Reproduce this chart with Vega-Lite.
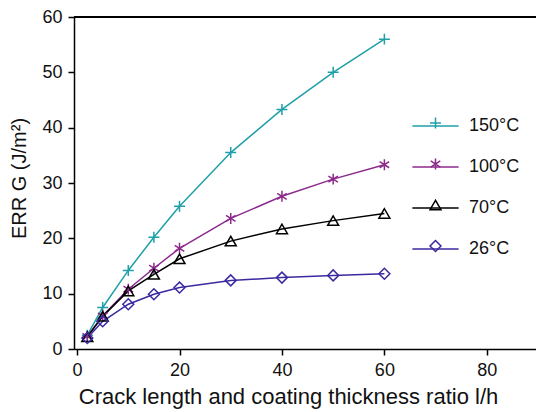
{
  "$schema": "https://vega.github.io/schema/vega-lite/v6.json",
  "width": 462,
  "height": 332,
  "autosize": {"type": "none"},
  "padding": {"left": 74, "top": 17, "right": 0, "bottom": 63},
  "background": "white",
  "config": {
    "view": {"stroke": null},
    "font": "Liberation Sans",
    "axis": {"domainColor": "#000", "domainWidth": 1.5, "tickColor": "#000", "tickWidth": 1.5, "tickSize": 6, "labelColor": "#111", "titleColor": "#111", "labelFontSize": 18, "titleFontSize": 20, "titleFontWeight": "normal", "grid": false, "labelFont": "Liberation Sans", "titleFont": "Liberation Sans"}
  },
  "data": {
    "values": [
      {"s": "150°C", "x": 2, "y": 2.5}, {"s": "150°C", "x": 5, "y": 7.5}, {"s": "150°C", "x": 10, "y": 14.2}, {"s": "150°C", "x": 15, "y": 20.2}, {"s": "150°C", "x": 20, "y": 25.8}, {"s": "150°C", "x": 30, "y": 35.5}, {"s": "150°C", "x": 40, "y": 43.3}, {"s": "150°C", "x": 50, "y": 50.0}, {"s": "150°C", "x": 60, "y": 56.0},
      {"s": "100°C", "x": 2, "y": 2.3}, {"s": "100°C", "x": 5, "y": 6.0}, {"s": "100°C", "x": 10, "y": 10.8}, {"s": "100°C", "x": 15, "y": 14.6}, {"s": "100°C", "x": 20, "y": 18.2}, {"s": "100°C", "x": 30, "y": 23.6}, {"s": "100°C", "x": 40, "y": 27.6}, {"s": "100°C", "x": 50, "y": 30.7}, {"s": "100°C", "x": 60, "y": 33.3},
      {"s": "70°C", "x": 2, "y": 2.2}, {"s": "70°C", "x": 5, "y": 5.9}, {"s": "70°C", "x": 10, "y": 10.5}, {"s": "70°C", "x": 15, "y": 13.5}, {"s": "70°C", "x": 20, "y": 16.3}, {"s": "70°C", "x": 30, "y": 19.5}, {"s": "70°C", "x": 40, "y": 21.7}, {"s": "70°C", "x": 50, "y": 23.2}, {"s": "70°C", "x": 60, "y": 24.5},
      {"s": "26°C", "x": 2, "y": 2.0}, {"s": "26°C", "x": 5, "y": 5.0}, {"s": "26°C", "x": 10, "y": 8.1}, {"s": "26°C", "x": 15, "y": 9.9}, {"s": "26°C", "x": 20, "y": 11.1}, {"s": "26°C", "x": 30, "y": 12.4}, {"s": "26°C", "x": 40, "y": 12.9}, {"s": "26°C", "x": 50, "y": 13.3}, {"s": "26°C", "x": 60, "y": 13.6}
    ]
  },
  "encoding": {
    "x": {"field": "x", "type": "quantitative", "scale": {"domain": [-0.6, 89.6], "nice": false, "zero": false},
      "axis": {"values": [0, 20, 40, 60, 80], "labelPadding": 6, "title": "Crack length and coating thickness ratio l/h", "titleFontSize": 22, "titleX": 214, "titleY": 54, "titleBaseline": "alphabetic", "titleAnchor": "middle", "titleAlign": "center"}},
    "y": {"field": "y", "type": "quantitative", "scale": {"domain": [0, 60], "nice": false},
      "axis": {"values": [0, 10, 20, 30, 40, 50, 60], "labelPadding": 6, "title": "ERR G (J/m²)", "titleX": -49, "titleY": 161, "titleAngle": -90, "titleBaseline": "alphabetic", "titleAlign": "center"}}
  },
  "layer": [
    {
      "mark": {"type": "rule", "color": "#000", "strokeWidth": 1.5},
      "encoding": {"y": {"datum": 60}, "x": {"value": 0}, "x2": {"value": 462}}
    },
    {
      "mark": {"type": "line", "strokeWidth": 1.5},
      "encoding": {
        "color": {"field": "s", "type": "nominal",
          "scale": {"domain": ["150°C", "100°C", "70°C", "26°C"], "range": ["#1f9fa8", "#8c2a8c", "#000000", "#3a2aa0"]},
          "legend": {"orient": "none", "legendX": 346.5, "legendY": 94, "direction": "vertical", "title": null, "padding": 0, "symbolType": "M-1.65,0H1.65", "symbolSize": 784, "symbolStrokeWidth": 1.5, "symbolFillColor": "transparent", "rowPadding": 17, "labelFontSize": 18, "labelOffset": 18.5, "labelColor": "#111", "labelFont": "Liberation Sans"}}
      }
    },
    {
      "mark": {"type": "point", "filled": false, "strokeWidth": 1.5, "size": 120, "opacity": 1},
      "encoding": {
        "color": {"field": "s", "type": "nominal",
          "legend": {"orient": "none", "legendX": 346.5, "legendY": 91, "direction": "vertical", "title": null, "padding": 0, "symbolSize": 120, "symbolStrokeWidth": 1.5, "rowPadding": 11, "labelFontSize": 30, "labelOpacity": 0, "labelExpr": "''", "labelOffset": 18.5}},
        "shape": {"field": "s", "type": "nominal",
          "scale": {"domain": ["150°C", "100°C", "70°C", "26°C"], "range": ["M-1,0H1M0,-1V1", "M0,-1V1M-0.87,-0.55L0.87,0.55M-0.87,0.55L0.87,-0.55", "triangle-up", "diamond"]},
          "legend": {"orient": "none", "legendX": 346.5, "legendY": 91, "direction": "vertical", "title": null, "padding": 0, "symbolSize": 120, "symbolStrokeWidth": 1.5, "rowPadding": 11, "labelFontSize": 30, "labelOpacity": 0, "labelExpr": "''", "labelOffset": 18.5}}
      }
    }
  ],
  "resolve": {"legend": {"color": "independent", "shape": "independent"}}
}
